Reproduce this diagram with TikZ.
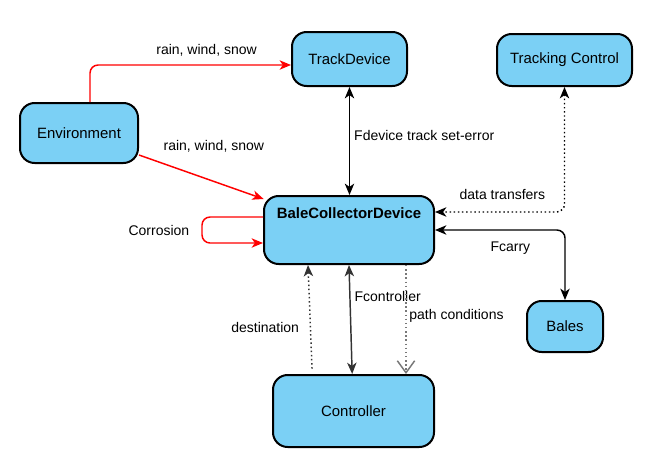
\documentclass[tikz,border=0pt]{standalone}
\usepackage{fontspec}
\setmainfont{Liberation Sans}
\usetikzlibrary{arrows.meta, positioning}

\definecolor{boxfill}{RGB}{123,208,245}
\definecolor{darkline}{RGB}{51,51,51}
\definecolor{lightline}{RGB}{120,120,120}

\tikzset{
  box/.style={draw=black, line width=1.5pt, fill=boxfill, rounded corners=11pt,
    font=\fontsize{11.2}{13}\selectfont, inner sep=0pt},
  boxsize/.style 2 args={minimum width={#1*0.75pt}, minimum height={#2*0.75pt}},
  tip/.style={-{Stealth[length=8.5pt, width=7pt, inset=2.4pt]}},
  tips/.style={{Stealth[length=8.5pt, width=7pt, inset=2.4pt]}-{Stealth[length=8.5pt, width=7pt, inset=2.4pt]}},
  redline/.style={draw=red, line width=1.1pt, rounded corners=6pt, tip},
  blackline/.style={draw=black, line width=1.1pt, rounded corners=6pt},
  greyline/.style={draw=darkline, line width=1.1pt},
  lbl/.style={font=\fontsize{10.5}{12}\selectfont, inner sep=1pt}
}

\begin{document}
\begin{tikzpicture}[x=0.75pt, y=-0.75pt]

    \useasboundingbox (0,0) rectangle (649,475);

    \node [box, boxsize={118}{60}] (env) at (79,133) {Environment};
    \node [box, boxsize={115}{54}] (track) at (349.5,59) {TrackDevice};
    \node [box, boxsize={135}{52}] (trackctl) at (564.5,60) {Tracking Control};
    \node [box, boxsize={170}{68},
      label={[anchor=center, yshift=-13.5pt, font=\fontsize{11.2}{13}\selectfont\bfseries]north:BaleCollectorDevice}]
      (bcd) at (349,230) {};
    \node [box, boxsize={76}{51}] (bales) at (565,326.5) {Bales};
    \node [box, boxsize={161}{72}] (ctrl) at (353.5,411) {Controller};

    % weather
    \draw [redline] ([xshift=8.25pt]env.north) |- ([yshift=-4.5pt]track.west)
      node [lbl, pos=0.79, yshift=11.25pt] {rain, wind, snow};
    \draw [redline] ([yshift=-16.5pt]env.east) -- ([xshift=0.5pt, yshift=-3pt]bcd.north west)
      node [lbl, pos=0.6, yshift=26pt] {rain, wind, snow};
    \draw [redline] ([yshift=9.75pt]bcd.west) -- ++(-61,0) |- ([yshift=-9.75pt]bcd.west)
      node [lbl, pos=0.25, left=8pt] {Corrosion};

    % device links
    \draw [blackline, tips] (track.south) -- (track.south |- bcd.north)
      node [lbl, pos=0.45, right=2pt] {Fdevice track set-error};
    \draw [blackline, tips, dotted] (trackctl.south) |- ([yshift=13.5pt]bcd.east)
      node [lbl, pos=0.74, yshift=13.5pt] {data transfers};
    \draw [blackline, tips] (bcd.east) -| (bales.north)
      node [lbl, pos=0.29, yshift=-13.5pt] {Fcarry};

    % controller links
    \draw [greyline, tips] (bcd.south) -- ([xshift=-1pt]ctrl.north)
      node [lbl, pos=0.29, right=2pt] {Fcontroller};
    \draw [greyline, tip, dotted] ([xshift=-31.1pt, yshift=4pt]ctrl.north) -- ([xshift=-30.75pt]bcd.south)
      node [lbl, pos=0.4, left=7pt] {destination};
    \draw [draw=lightline, line width=1.1pt, dotted, -{Straight Barb[length=9pt, width=13pt]}]
      ([xshift=42.75pt]bcd.south) -- ([xshift=42.75pt]bcd.south |- ctrl.north)
      node [lbl, pos=0.47, right=1pt] {path conditions};

\end{tikzpicture}
\end{document}
